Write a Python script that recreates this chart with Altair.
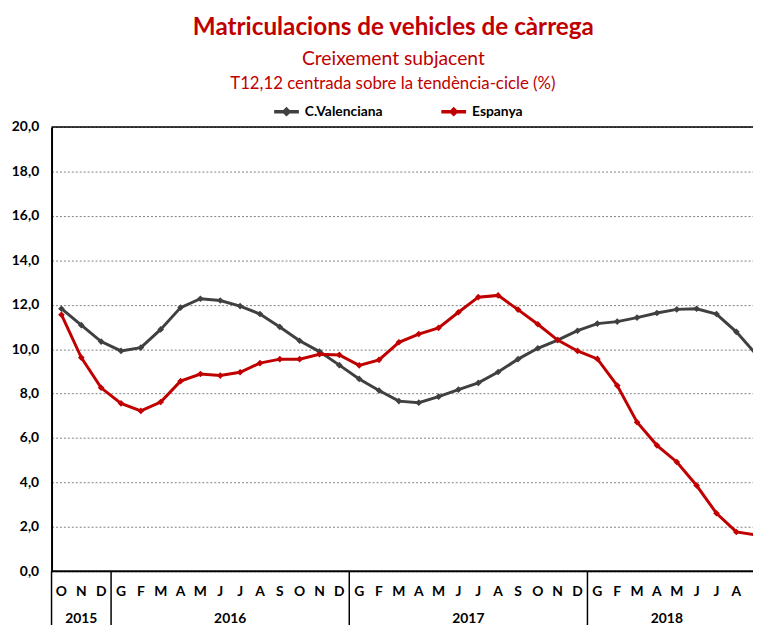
import altair as alt
import pandas as pd

months = ["O", "N", "D",
          "G", "F", "M", "A", "M", "J", "J", "A", "S", "O", "N", "D",
          "G", "F", "M", "A", "M", "J", "J", "A", "S", "O", "N", "D",
          "G", "F", "M", "A", "M", "J", "J", "A", "S"]
cv = [11.82, 11.08, 10.34,
      9.92, 10.07, 10.89, 11.87, 12.27, 12.19, 11.94, 11.58, 11.00, 10.38, 9.89, 9.28,
      8.66, 8.14, 7.66, 7.59, 7.86, 8.18, 8.48, 8.97, 9.55, 10.04, 10.41, 10.83,
      11.15, 11.24, 11.42, 11.63, 11.79, 11.82, 11.58, 10.78, 9.77]
esp = [11.55, 9.62, 8.26,
       7.56, 7.22, 7.62, 8.56, 8.88, 8.81, 8.96, 9.37, 9.55, 9.55, 9.77, 9.74,
       9.27, 9.52, 10.31, 10.68, 10.96, 11.66, 12.34, 12.42, 11.78, 11.12, 10.41, 9.92,
       9.56, 8.36, 6.71, 5.67, 4.92, 3.86, 2.61, 1.77, 1.63]
series = ["C.Valenciana", "Espanya"]
years = ["2015", "2016", "2017", "2018"]
year_centers = [1, 8.5, 20.5, 30.5]
year_breaks = [-0.5, 2.5, 14.5, 26.5]
y_ticks = [0, 2, 4, 6, 8, 10, 12, 14, 16, 18, 20]
title_text = "Matriculacions de vehicles de càrrega"
subtitle_text = "Creixement subjacent"
note_text = "T12,12 centrada sobre la tendència-cicle (%)"

n = len(months)
df = pd.DataFrame({
    "idx": list(range(n)) * 2,
    "serie": [series[0]] * n + [series[1]] * n,
    "value": cv + esp,
})
mdf = pd.DataFrame({"idx": list(range(n)), "m": months})
ydf = pd.DataFrame({"pos": year_centers, "year": years})
bdf = pd.DataFrame({"pos": year_breaks})
ndf = pd.DataFrame({"t": [note_text]})

FONT = "Lato"
LFONT = "Lato"
SYM = "M-1,0L1,0M0,-0.2L0.2,0L0,0.2L-0.2,0Z"
xscale = alt.Scale(domain=[-0.5, 34.84], nice=False, zero=False)
yscale = alt.Scale(domain=[0, 20], nice=False)

color = alt.Color(
    "serie:N",
    scale=alt.Scale(domain=series, range=["#404040", "#C00000"]),
    legend=alt.Legend(
        title=None, orient="none", direction="horizontal",
        legendX=223, legendY=-30,
        symbolType=SYM,
        symbolSize=625, symbolStrokeWidth=3.5,
        labelFont=LFONT, labelFontWeight="bold", labelFontSize=14,
        labelColor="black", columnPadding=52, labelOffset=4,
    ),
)

x = alt.X("idx:Q", scale=xscale, axis=None)
y = alt.Y("value:Q", scale=yscale, axis=alt.Axis(
    values=y_ticks, title=None,
    labelExpr="replace(format(datum.value, '.1f'), '.', ',')",
    grid=True, gridDash=[2, 2], gridColor="#7f7f7f", gridWidth=1,
    domainColor="black", domainWidth=2, ticks=False,
    labelFont=LFONT, labelFontWeight="bold", labelFontSize=14,
    labelColor="black", labelPadding=13,
))

lines = alt.Chart(df).mark_line(strokeWidth=3, clip=True).encode(x=x, y=y, color=color)
points = alt.Chart(df).mark_point(shape="diamond", filled=True, size=45, opacity=1, clip=True).encode(
    x=x, y=alt.Y("value:Q", scale=yscale), color=color)

frame_rules = alt.Chart(pd.DataFrame({"v": [0, 20], "w": [2, 1.5]})).mark_rule(color="black").encode(
    y=alt.Y("v:Q", scale=yscale), strokeWidth=alt.StrokeWidth("w:Q", scale=None, legend=None))

month_text = alt.Chart(mdf).transform_filter("datum.idx <= 34").mark_text(
    font=LFONT, fontWeight="bold", fontSize=14, color="black", baseline="middle").encode(
    x=alt.X("idx:Q", scale=xscale), y=alt.value(470), text="m:N")

year_text = alt.Chart(ydf).mark_text(
    font=LFONT, fontWeight="bold", fontSize=14, color="black", baseline="middle").encode(
    x=alt.X("pos:Q", scale=xscale), y=alt.value(497), text="year:N")

note = alt.Chart(ndf).mark_text(
    font=FONT, fontSize=17, color="#C00000", baseline="middle", align="center").encode(
    x=alt.value(345), y=alt.value(-43), text="t:N")

seps = alt.Chart(bdf).mark_rule(color="black", strokeWidth=1.5).encode(
    x=alt.X("pos:Q", scale=xscale), y=alt.value(449), y2=alt.value(530))

chart = alt.layer(lines, points, frame_rules, month_text, year_text, note, seps).properties(
    width=709, height=449,
    autosize=alt.AutoSizeParams(type="none"),
    padding={"left": 44, "top": 117, "right": 0, "bottom": 51},
    title=alt.TitleParams(
        text=title_text,
        subtitle=subtitle_text,
        font=FONT, fontSize=24.5, fontWeight="bold", color="#C00000",
        subtitleFont=FONT, subtitleFontSize=19.5, subtitleColor="#C00000",
        subtitlePadding=10,
        anchor="middle", dx=-9, offset=6,
    ),
).configure_view(stroke=None)

chart.save("out.html", embed_options={"renderer": "svg", "actions": False})
